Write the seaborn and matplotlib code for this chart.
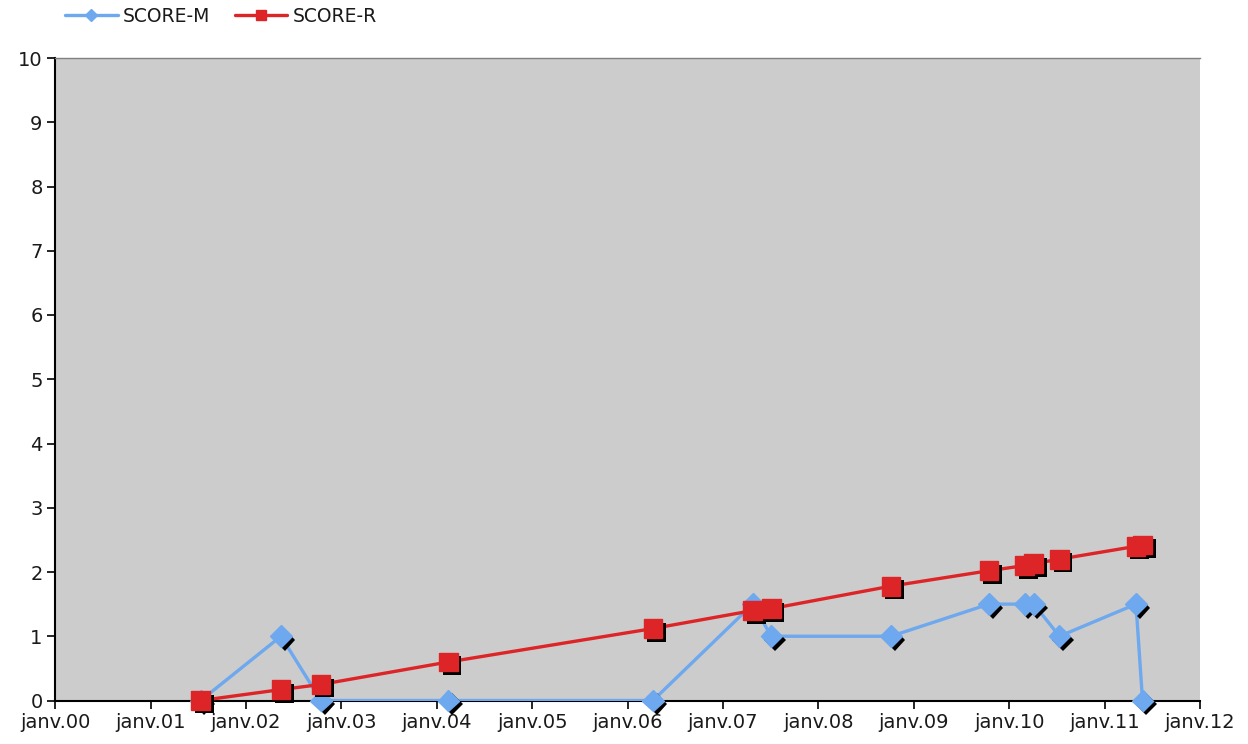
import matplotlib
matplotlib.use("Agg")
import matplotlib.pyplot as plt
import matplotlib.patheffects as pe
from matplotlib.lines import Line2D
import seaborn as sns
import pandas as pd

dates = ["2001-07-12", "2002-05-15", "2002-10-15", "2004-02-15", "2006-04-08",
         "2007-04-25", "2007-07-05", "2008-10-05", "2009-10-15", "2010-03-01",
         "2010-04-05", "2010-07-12", "2011-05-01", "2011-05-26"]
score_m = [0, 1, 0, 0, 0, 1.5, 1, 1, 1.5, 1.5, 1.5, 1, 1.5, 0]
score_r = [0, 0.17, 0.25, 0.6, 1.12, 1.4, 1.43, 1.78, 2.02, 2.1, 2.13, 2.2, 2.4, 2.42]
tick_years = list(range(2000, 2013))
tick_labels = ["janv.%02d" % (y % 100) for y in tick_years]
y_ticks = list(range(0, 11))

blue = "#6EA8EE"
red = "#DD2426"

df = pd.DataFrame({"date": pd.to_datetime(dates), "SCORE-M": score_m, "SCORE-R": score_r})

sns.set_style("white")
plt.rcParams["font.family"] = ["DejaVu Sans"]

fig = plt.figure(figsize=(12.48, 7.44), dpi=100)
ax = fig.add_axes([55 / 1248, 1 - 700.5 / 744, (1200 - 55) / 1248, (700.5 - 58) / 744])
ax.set_facecolor("#CCCCCC")

shadow = [pe.SimplePatchShadow(offset=(2.6, -2.6), shadow_rgbFace="black", alpha=1.0), pe.Normal()]

sns.lineplot(data=df, x="date", y="SCORE-M", ax=ax, color=blue, linewidth=2.4, zorder=3)
ax.plot(df["date"], df["SCORE-M"], linestyle="none", marker="D", markersize=11,
        color=blue, markeredgecolor=blue, path_effects=shadow, clip_on=False, zorder=4)
sns.lineplot(data=df, x="date", y="SCORE-R", ax=ax, color=red, linewidth=2.4, zorder=5)
ax.plot(df["date"], df["SCORE-R"], linestyle="none", marker="s", markersize=13.5,
        color=red, markeredgecolor=red, path_effects=shadow, clip_on=False, zorder=6)

ax.set_xlim(pd.Timestamp("2000-01-01"), pd.Timestamp("2012-01-01"))
ax.set_ylim(0, 10)
ax.set_xticks([pd.Timestamp(f"{y}-01-01") for y in tick_years])
ax.set_xticklabels(tick_labels)
ax.set_yticks(y_ticks)
ax.set_yticklabels([str(v) for v in y_ticks])
ax.set_xlabel("")
ax.set_ylabel("")
ax.tick_params(axis="both", direction="out", length=6, width=1.2, color="black",
               labelsize=14, labelcolor="#1a1a1a", pad=3)
ax.tick_params(axis="x", bottom=True)
ax.tick_params(axis="y", left=True)

for s in ["left", "bottom"]:
    ax.spines[s].set_color("black")
    ax.spines[s].set_linewidth(1.5)
ax.spines["top"].set_color("#808080")
ax.spines["top"].set_linewidth(1.0)
ax.spines["right"].set_visible(False)

handles = [
    Line2D([], [], color=blue, linewidth=2.4, marker="D", markersize=6, markeredgecolor=blue),
    Line2D([], [], color=red, linewidth=2.4, marker="s", markersize=7, markeredgecolor=red),
]
fig.legend(handles, ["SCORE-M", "SCORE-R"], loc="center left", bbox_to_anchor=(65 / 1248, 1 - 16 / 744),
           ncol=2, frameon=False, fontsize=13.5, handlelength=2.8, handletextpad=0.3,
           columnspacing=1.3, borderaxespad=0, borderpad=0, labelcolor="#1a1a1a")

fig.savefig("out.png", dpi=100, facecolor="white")
